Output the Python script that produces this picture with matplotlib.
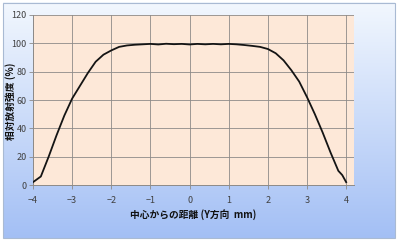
"""Relative radiation intensity profile along the Y direction."""
import numpy as np
import matplotlib
matplotlib.use("Agg")
from matplotlib import pyplot as plt
from matplotlib.patches import FancyBboxPatch

plt.rcParams["font.family"] = ["Noto Sans CJK JP", "DejaVu Sans"]

# distance from centre [mm] and relative intensity [%]
distance_mm = [
    -4.0, -3.8, -3.6, -3.4, -3.2, -3.0, -2.8, -2.6, -2.4, -2.2, -2.0,
    -1.8, -1.6, -1.4, -1.2, -1.0, -0.8, -0.6, -0.4, -0.2, 0.0,
    0.2, 0.4, 0.6, 0.8, 1.0, 1.2, 1.4, 1.6, 1.8, 2.0,
    2.2, 2.4, 2.6, 2.8, 3.0, 3.2, 3.4, 3.6, 3.8, 3.9, 4.0,
]
intensity_pct = [
    2, 6, 20, 35, 49, 61, 70, 79, 87, 92, 95,
    97.5, 98.5, 99, 99.3, 99.6, 99.2, 99.7, 99.4, 99.6, 99.2,
    99.6, 99.3, 99.6, 99.3, 99.6, 99.3, 98.8, 98.2, 97.5, 96,
    93, 88, 81, 73, 62, 50, 37, 23, 10, 7, 2,
]
x_ticks = [-4, -3, -2, -1, 0, 1, 2, 3, 4]
y_ticks = [0, 20, 40, 60, 80, 100, 120]
x_label = "中心からの距離 (Y方向  mm)"
y_label = "相対放射強度 (%)"

fig = plt.figure(figsize=(4.0, 2.43), dpi=100)
fig.patch.set_facecolor("white")

# background panel with a vertical blue gradient
bg = fig.add_axes([0, 0, 1, 1], zorder=0)
bg.set_xlim(0, 400)
bg.set_ylim(243, 0)
bg.axis("off")
grad = np.linspace(0, 1, 256)[:, None]
top = np.array([0.95, 0.97, 0.995])
bottom = np.array([0.64, 0.75, 0.96])
img = top + (bottom - top) * grad[..., None]
img = np.repeat(img, 2, axis=1)
bg.imshow(img, extent=(3, 395, 238, 3), aspect="auto", zorder=1)
bg.add_patch(FancyBboxPatch((3, 3), 392, 235, boxstyle="square,pad=0",
                            fill=False, edgecolor="#a9bad3", linewidth=0.8, zorder=2))

ax = fig.add_axes([33 / 400, 58 / 243, 321 / 400, 170 / 243], zorder=1)
ax.set_facecolor("#fde8d8")
ax.plot(distance_mm, intensity_pct, color="#141414", linewidth=1.3,
        solid_joinstyle="round", zorder=3)

ax.set_xlim(-4, 4.2)
ax.set_ylim(0, 120)
ax.set_xticks(x_ticks)
ax.set_yticks(y_ticks)
ax.grid(True, color="#8d8a88", linewidth=0.6)
ax.set_axisbelow(True)
for side in ["top", "right"]:
    ax.spines[side].set_visible(False)
for side in ["left", "bottom"]:
    ax.spines[side].set_color("#8d8a88")
    ax.spines[side].set_linewidth(0.7)
ax.tick_params(axis="both", colors="#8d8a88", labelcolor="#404040",
               labelsize=6.5, length=3, width=0.6)
ax.tick_params(axis="x", pad=5)
ax.tick_params(axis="y", pad=1.5)

ax.set_xlabel(x_label, fontsize=7, fontweight="bold", color="#111111", labelpad=3)
fig.text(11 / 400, 1 - 101 / 243, y_label, rotation=90, fontsize=7,
         fontweight="bold", color="#111111", ha="center", va="center", zorder=5)

fig.savefig("out.png", dpi=100)
